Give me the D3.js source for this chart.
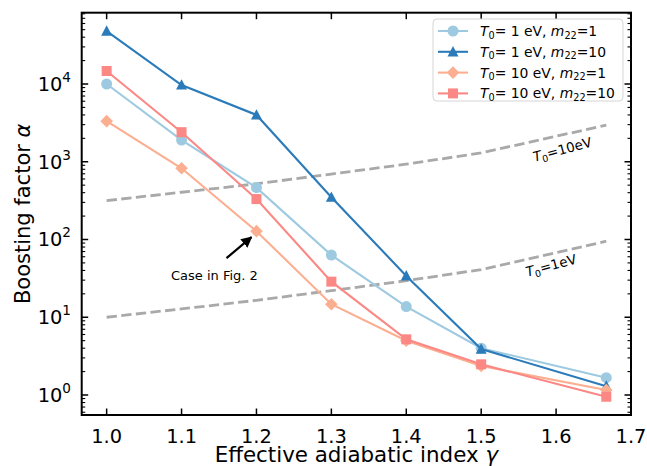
<!DOCTYPE html>
<html>
<head>
<meta charset="utf-8">
<script src="https://cdn.jsdelivr.net/npm/d3@7"></script>
<style>
body { margin: 0; background: #fff; }
text { font-family: "DejaVu Sans", sans-serif; fill: #000; }
</style>
</head>
<body>
<div id="chart"></div>
<script>
// values
var gammas = [1.0, 1.1, 1.2, 1.3, 1.4, 1.5, 1.667];
var alphaT1m1 = [10000, 1900, 465, 63, 13.7, 4.0, 1.67];
var alphaT1m10 = [48000, 9700, 4000, 350, 34, 3.9, 1.3];
var alphaT10m1 = [3330, 824, 128, 14.7, 5.0, 2.36, 1.16];
var alphaT10m10 = [14700, 2400, 331, 28.7, 5.2, 2.48, 0.95];
var critT1 = [10, 12.8, 16.5, 22, 29.5, 41, 95];
var critT10 = [316, 405, 520, 695, 930, 1300, 2960];
var xTicks = [1.0, 1.1, 1.2, 1.3, 1.4, 1.5, 1.6, 1.7];
var yTicks = [1, 10, 100, 1000, 10000];
var yExp = ["0", "1", "2", "3", "4"];

var series = [
    {T: "1", m: "1", vals: alphaT1m1, color: "#9ecae1", shape: "circle"},
    {T: "1", m: "10", vals: alphaT1m10, color: "#2b7bba", shape: "triangle"},
    {T: "10", m: "1", vals: alphaT10m1, color: "#fcae91", shape: "diamond"},
    {T: "10", m: "10", vals: alphaT10m10, color: "#fb8884", shape: "square"}
];

var W = 647, H = 466;
var pLeft = 81.7, pRight = 631, pTop = 12.7, pBottom = 415;

var svg = d3.select("#chart").append("svg")
    .attr("width", W).attr("height", H);

var x = d3.scaleLinear().domain([0.9667, 1.7]).range([pLeft, pRight]);
var y = d3.scaleLog().domain([0.553, 82600]).range([pBottom, pTop]);

function markerPath(shape) {
    if (shape == "circle") return d3.symbol(d3.symbolCircle, 95)();
    if (shape == "square") return "M-5,-5L5,-5L5,5L-5,5Z";
    if (shape == "diamond") return "M0,-6.3L6.3,0L0,6.3L-6.3,0Z";
    return "M0,-5.8L5.5,4.6L-5.5,4.6Z";
}

var plot = svg.append("g");
var line = d3.line().x(function (d) { return x(d[0]); }).y(function (d) { return y(d[1]); });

// dashed reference curves
[critT1, critT10].forEach(function (vals) {
    plot.append("path")
        .attr("d", line(gammas.map(function (g, i) { return [g, vals[i]]; })))
        .attr("fill", "none")
        .attr("stroke", "#a9a9a9")
        .attr("stroke-width", 2.8)
        .attr("stroke-dasharray", "10.3,4.4");
});

series.forEach(function (s) {
    var pts = gammas.map(function (g, i) { return [g, s.vals[i]]; });
    plot.append("path")
        .attr("d", line(pts))
        .attr("fill", "none")
        .attr("stroke", s.color)
        .attr("stroke-width", 2.1);
    plot.selectAll(null).data(pts).enter().append("path")
        .attr("d", markerPath(s.shape))
        .attr("transform", function (d) { return "translate(" + x(d[0]) + "," + y(d[1]) + ")"; })
        .attr("fill", s.color);
});

// labels on dashed lines
function tLabel(txt, cx, cy) {
    var t = plot.append("text")
        .attr("transform", "translate(" + cx + "," + cy + ") rotate(-15)")
        .attr("text-anchor", "middle")
        .attr("font-size", 13.5);
    t.append("tspan").attr("font-style", "italic").text("T");
    t.append("tspan").attr("font-size", 9.5).attr("dy", 3).text("0");
    t.append("tspan").attr("dy", -3).text(txt);
}
tLabel("=10eV", x(1.61), y(1500) + 6);
tLabel("=1eV", x(1.595), y(47) + 5);

// annotation
var ax = x(1.2), ay = y(128);
svg.append("defs").append("marker")
    .attr("id", "head").attr("viewBox", "0 0 10 10")
    .attr("refX", 9).attr("refY", 5)
    .attr("markerWidth", 5).attr("markerHeight", 5)
    .attr("markerUnits", "strokeWidth")
    .attr("orient", "auto")
    .append("path").attr("d", "M0,0L10,5L0,10Z").attr("fill", "#000");
plot.append("line")
    .attr("x1", ax - 30).attr("y1", ay + 27)
    .attr("x2", ax - 5).attr("y2", ay + 6)
    .attr("stroke", "#000").attr("stroke-width", 2.2)
    .attr("marker-end", "url(#head)");
plot.append("text")
    .attr("x", ax - 42).attr("y", ay + 49)
    .attr("text-anchor", "middle")
    .attr("font-size", 13)
    .text("Case in Fig. 2");

// ticks, all four sides pointing in
var ticks = svg.append("g").attr("stroke", "#000");
xTicks.forEach(function (v) {
    ticks.append("line").attr("x1", x(v)).attr("x2", x(v))
        .attr("y1", pBottom).attr("y2", pBottom - 6.5).attr("stroke-width", 1.5);
    ticks.append("line").attr("x1", x(v)).attr("x2", x(v))
        .attr("y1", pTop).attr("y2", pTop + 6.5).attr("stroke-width", 1.5);
    svg.append("text").attr("x", x(v)).attr("y", 443)
        .attr("text-anchor", "middle").attr("font-size", 19.4)
        .text(d3.format(".1f")(v));
});
yTicks.forEach(function (v, i) {
    ticks.append("line").attr("x1", pLeft).attr("x2", pLeft + 6.5)
        .attr("y1", y(v)).attr("y2", y(v)).attr("stroke-width", 1.5);
    ticks.append("line").attr("x1", pRight).attr("x2", pRight - 6.5)
        .attr("y1", y(v)).attr("y2", y(v)).attr("stroke-width", 1.5);
    var t = svg.append("text").attr("x", 71).attr("y", y(v) + 7)
        .attr("text-anchor", "end").attr("font-size", 19.4);
    t.append("tspan").text("10");
    t.append("tspan").attr("font-size", 13.6).attr("dy", -9).text(yExp[i]);
});
var minors = [];
for (var e = -1; e <= 4; e++) {
    for (var k = 2; k <= 9; k++) {
        var v = k * Math.pow(10, e);
        if (v > y.domain()[0] && v < y.domain()[1]) minors.push(v);
    }
}
minors.forEach(function (v) {
    ticks.append("line").attr("x1", pLeft).attr("x2", pLeft + 3.5)
        .attr("y1", y(v)).attr("y2", y(v)).attr("stroke-width", 1.1);
    ticks.append("line").attr("x1", pRight).attr("x2", pRight - 3.5)
        .attr("y1", y(v)).attr("y2", y(v)).attr("stroke-width", 1.1);
});

svg.append("rect")
    .attr("x", pLeft).attr("y", pTop)
    .attr("width", pRight - pLeft).attr("height", pBottom - pTop)
    .attr("fill", "none").attr("stroke", "#000").attr("stroke-width", 2);

// axis titles
var xl = svg.append("text").attr("x", (pLeft + pRight) / 2).attr("y", 462)
    .attr("text-anchor", "middle").attr("font-size", 21.4);
xl.append("tspan").text("Effective adiabatic index ");
xl.append("tspan").attr("font-style", "italic").text("γ");
var yl = svg.append("text")
    .attr("transform", "translate(30," + (pTop + pBottom) / 2 + ") rotate(-90)")
    .attr("text-anchor", "middle").attr("font-size", 21);
yl.append("tspan").text("Boosting factor ");
yl.append("tspan").attr("font-style", "italic").text("α");

// legend
var lg = svg.append("g");
lg.append("rect")
    .attr("x", 433).attr("y", 19).attr("width", 190).attr("height", 82)
    .attr("rx", 4).attr("fill", "#fff").attr("fill-opacity", 0.8)
    .attr("stroke", "#d5d5d5").attr("stroke-width", 1);
series.forEach(function (s, i) {
    var ry = 31 + i * 20.8;
    lg.append("line").attr("x1", 438).attr("x2", 468)
        .attr("y1", ry).attr("y2", ry)
        .attr("stroke", s.color).attr("stroke-width", 2.1);
    lg.append("path").attr("d", markerPath(s.shape))
        .attr("transform", "translate(453," + ry + ")")
        .attr("fill", s.color);
    var t = lg.append("text").attr("x", 480).attr("y", ry + 5).attr("font-size", 13.9);
    t.append("tspan").attr("font-style", "italic").text("T");
    t.append("tspan").attr("font-size", 9.7).attr("dy", 2.5).text("0");
    t.append("tspan").attr("dy", -2.5).text("= " + s.T + " eV, ");
    t.append("tspan").attr("font-style", "italic").text("m");
    t.append("tspan").attr("font-size", 9.7).attr("dy", 2.5).text("22");
    t.append("tspan").attr("dy", -2.5).text("=" + s.m);
});
</script>
</body>
</html>
